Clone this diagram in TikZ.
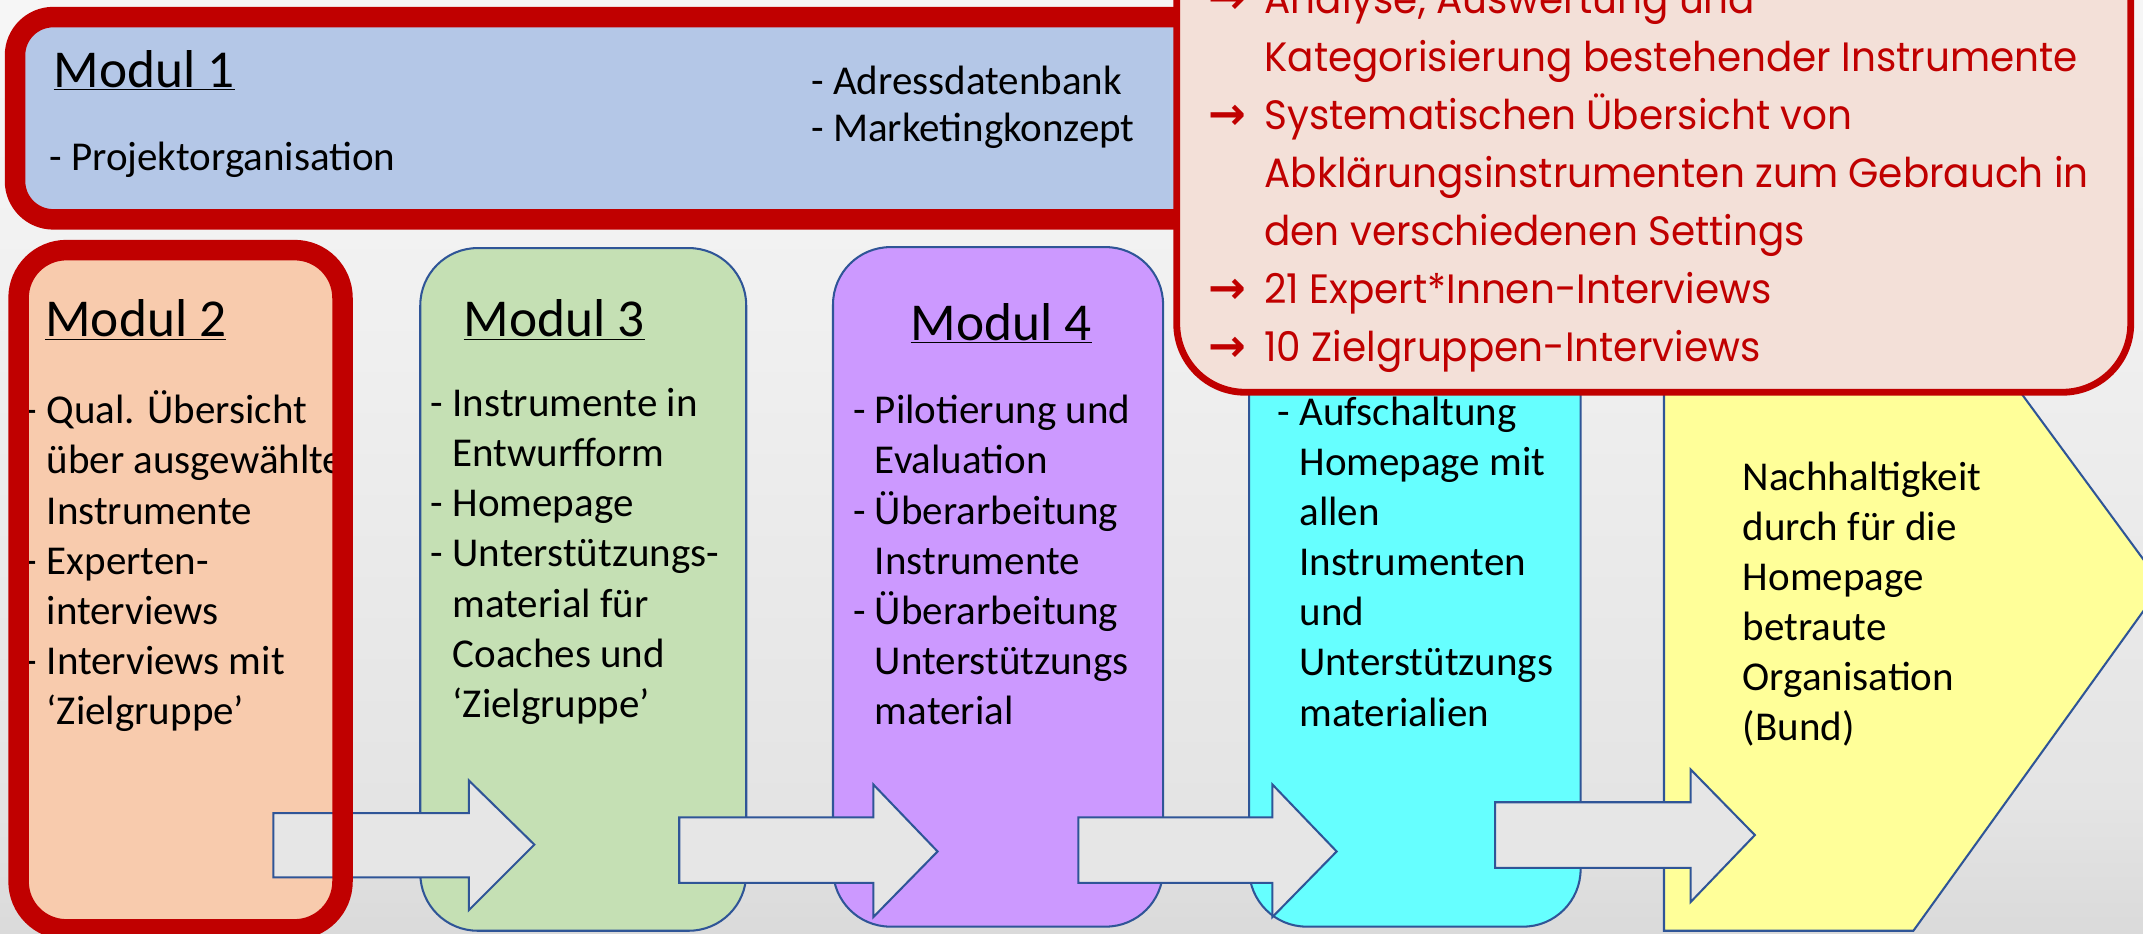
\documentclass[tikz,border=0pt]{standalone}
\usepackage{fontspec}
\setmainfont{Carlito}
\newfontfamily\twfont[FakeStretch=0.95]{Poppins}
\newfontfamily\arrowfont{DejaVu Sans}
\definecolor{bg0}{RGB}{184,184,184}
\definecolor{bg1}{RGB}{200,200,200}
\definecolor{bg2}{RGB}{228,228,228}
\definecolor{bg3}{RGB}{243,243,243}
\definecolor{bg4}{RGB}{254,254,254}
\definecolor{redb}{RGB}{192,0,0}
\definecolor{m1fill}{RGB}{180,199,231}
\definecolor{m2fill}{RGB}{248,203,173}
\definecolor{m3fill}{RGB}{197,224,180}
\definecolor{m4fill}{RGB}{204,153,255}
\definecolor{m5fill}{RGB}{102,255,255}
\definecolor{m6fill}{RGB}{255,255,153}
\definecolor{arrfill}{RGB}{230,230,230}
\definecolor{blueb}{RGB}{47,85,151}
\definecolor{callfill}{RGB}{243,224,216}
\pgfdeclareverticalshading{bgv}{100bp}{color(0bp)=(bg0); color(12bp)=(bg1); color(32bp)=(bg2); color(65bp)=(bg3); color(100bp)=(bg4)}
\newcommand{\itemdash}{\llap{-\space}}
\newcommand{\callarrow}{\llap{{\arrowfont\bfseries\fontsize{33}{33}\selectfont →}\hspace{13pt}}}
\tikzset{
  modbox/.style={draw=blueb, line width=1.5pt, rounded corners=42pt},
  body/.style={inner sep=0pt, anchor=base west, font=\fontsize{30}{36.7}\selectfont},
  ttl/.style={inner sep=0pt, anchor=base west, font=\fontsize{39}{46}\selectfont},
  blockarrow/.style={draw=blueb, line width=1.5pt, fill=arrfill, line join=miter},
  redframe/.style={draw=redb, line width=15pt},
  calltext/.style={inner sep=0pt, anchor=base west, text=redb, font=\twfont\fontsize{30}{42.44}\selectfont},
}
\begin{document}
\begin{tikzpicture}[x=1pt,y=-1pt]
\useasboundingbox (0,0) rectangle (1568,683);
\clip (0,0) rectangle (1568,683);
\shade[shading=bgv] (0,0) rectangle (1568,683);

% Modul 1
\fill[m1fill, rounded corners=28pt] (11,12.5) rectangle (1000,160.5);
\node[ttl] (m1h) at (39,63.9) {\underline{Modul 1}};
\node[body] (m1a) at (36,124.4) {- Projektorganisation};
\node[body, font=\fontsize{30}{34.2}\selectfont] (m1b) at (593.5,69.5)
  {\begin{tabular}[t]{@{}l@{}}- Adressdatenbank\\- Marketingkonzept\end{tabular}};

% Modul 2
\fill[m2fill, rounded corners=30pt] (13.6,183) rectangle (250.6,680);
\node[ttl] (m2h) at (33,246.5) {\underline{Modul 2}};
\node[body] (m2t) at (34,310) {\begin{tabular}[t]{@{}l@{}}\itemdash Qual. Übersicht\\über ausgewählte\\Instrumente\\\itemdash Experten-\\interviews\\\itemdash Interviews mit\\‘Zielgruppe’\end{tabular}};

% Modul 3
\draw[modbox, fill=m3fill] (307.5,181.5) rectangle (546,681);
\node[ttl] (m3h) at (339,246.5) {\underline{Modul 3}};
\node[body] (m3t) at (331,304.7) {\begin{tabular}[t]{@{}l@{}}\itemdash Instrumente in\\Entwurfform\\\itemdash Homepage\\\itemdash Unterstützungs-\\material für\\Coaches und\\‘Zielgruppe’\end{tabular}};

% Modul 4
\draw[modbox, fill=m4fill] (609.5,180.8) rectangle (851,678);
\node[ttl] (m4h) at (666,248.8) {\underline{Modul 4}};
\node[body] (m4t) at (640,310) {\begin{tabular}[t]{@{}l@{}}\itemdash Pilotierung und\\Evaluation\\\itemdash Überarbeitung\\Instrumente\\\itemdash Überarbeitung\\Unterstützungs\\material\end{tabular}};

% Modul 5
\draw[modbox, fill=m5fill] (914,181) rectangle (1156.5,678);
\node[body] (m5t) at (950.6,311) {\begin{tabular}[t]{@{}l@{}}\itemdash Aufschaltung\\Homepage mit\\allen\\Instrumenten\\und\\Unterstützungs\\materialien\end{tabular}};

% Modul 6 (pentagon)
\draw[draw=blueb, line width=1.5pt, fill=m6fill, line join=miter]
  (1217.5,175) -- (1396,175) -- (1582,428) -- (1400,681) -- (1217.5,681) -- cycle;
\node[body] (m6t) at (1275,358.6) {\begin{tabular}[t]{@{}l@{}}Nachhaltigkeit\\durch für die\\Homepage\\betraute\\Organisation\\(Bund)\end{tabular}};

% block arrows
\draw[blockarrow] (200,595) -- (343,595) -- (343,571) -- (391,618) -- (343,666) -- (343,642) -- (200,642) -- cycle;
\draw[blockarrow] (497,598) -- (639,598) -- (639,574) -- (686,623) -- (639,671) -- (639,646) -- (497,646) -- cycle;
\draw[blockarrow] (789,598) -- (931,598) -- (931,574) -- (978,623) -- (931,671) -- (931,646) -- (789,646) -- cycle;
\draw[blockarrow] (1094,587) -- (1237,587) -- (1237,563) -- (1284,611) -- (1237,660) -- (1237,635) -- (1094,635) -- cycle;

% red highlight frames
\draw[redframe, rounded corners=28pt] (11,12.5) rectangle (1000,160.5);
\draw[redframe, rounded corners=35pt] (13.6,183) rectangle (250.6,680);

% callout
\draw[draw=redb, line width=5pt, fill=callfill, rounded corners=50pt] (861,-80) rectangle (1559,287);
\node[calltext] (ct) at (925,10) {\begin{tabular}[t]{@{}l@{}}\callarrow Analyse, Auswertung und\\Kategorisierung bestehender Instrumente\\\callarrow Systematischen Übersicht von\\Abklärungsinstrumenten zum Gebrauch in\\den verschiedenen Settings\\\callarrow 21 Expert*Innen-Interviews\\\callarrow 10 Zielgruppen-Interviews\end{tabular}};
\end{tikzpicture}
\end{document}
